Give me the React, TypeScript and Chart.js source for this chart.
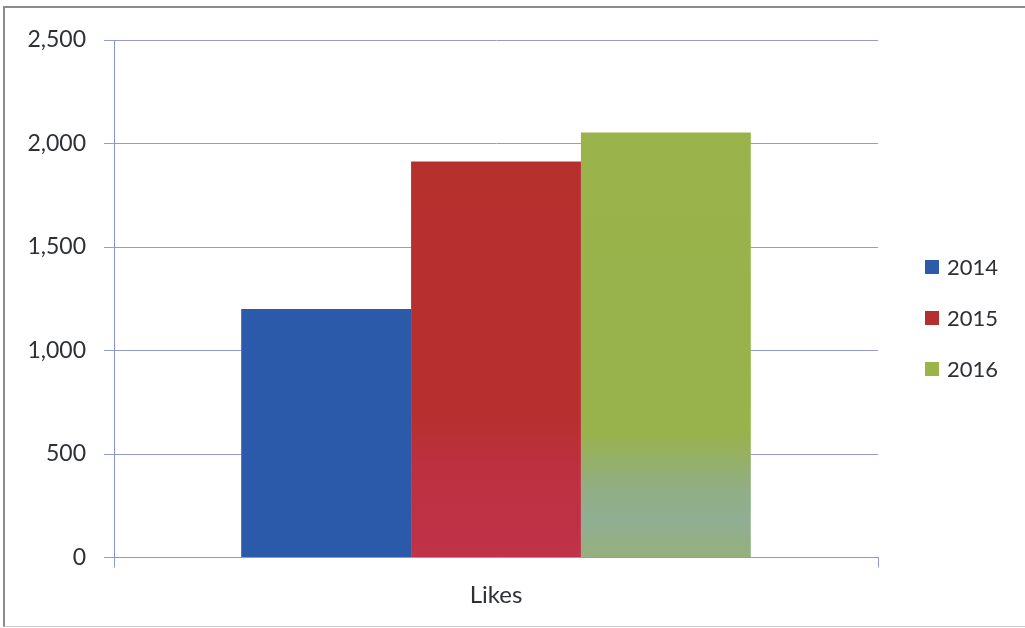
import React, { useEffect, useRef } from "react";
import { Chart, registerables } from "chart.js";

Chart.register(...registerables);

// Chart data
const categories = ["Likes"];
const seriesNames = ["2014", "2015", "2016"];
const likes2014 = [1200];
const likes2015 = [1913];
const likes2016 = [2053];
const yTicks = [0, 500, 1000, 1500, 2000, 2500];

const FONT = "Lato, 'Open Sans', sans-serif";
const TEXT = "#2e3038";

// Vertical fills for the bars (Excel-style shaded columns)
type Stops = [number, string][];
const fills: Stops[] = [
  [[0, "#2c5ba9"], [1, "#2b5aab"]],
  [[0, "#b52f2d"], [0.74, "#b7302f"], [0.82, "#bd3040"], [1, "#c03248"]],
  [[0, "#9ab44a"], [0.76, "#98b24c"], [0.87, "#91ae86"], [0.93, "#90ae92"], [1, "#96b07c"]],
];

function makeFill(stops: Stops) {
  return (ctx: any) => {
    const { chart } = ctx;
    const area = chart.chartArea;
    if (!area) return stops[0][1];
    const g = chart.ctx.createLinearGradient(0, area.top, 0, area.bottom);
    stops.forEach(([o, c]) => g.addColorStop(o, c));
    return g;
  };
}

const legendSwatch = [fills[0][0][1], fills[1][0][1], fills[2][0][1]];

// Legend drawn to the right of the plot area
const sideLegend = {
  id: "sideLegend",
  afterDraw(chart: any) {
    const { ctx, chartArea } = chart;
    const x = chartArea.right + 47;
    const gap = 51;
    const cy = chart.height / 2 + 4;
    ctx.save();
    ctx.font = `22px ${FONT}`;
    ctx.textBaseline = "middle";
    ctx.textAlign = "left";
    chart.data.datasets.forEach((ds: any, i: number) => {
      const y = cy + (i - 1) * gap;
      ctx.fillStyle = legendSwatch[i];
      ctx.fillRect(x, y - 7, 14, 14);
      ctx.fillStyle = TEXT;
      ctx.fillText(ds.label, x + 22, y + 1);
    });
    ctx.restore();
  },
};

export default function App() {
  const ref = useRef<HTMLCanvasElement | null>(null);

  useEffect(() => {
    if (!ref.current) return;
    const series = [likes2014, likes2015, likes2016];
    const chart = new Chart(ref.current, {
      type: "bar",
      data: {
        labels: categories,
        datasets: series.map((d, i) => ({
          label: seriesNames[i],
          data: d,
          backgroundColor: makeFill(fills[i]),
          borderWidth: 0,
          categoryPercentage: 0.667,
          barPercentage: 1.0,
        })),
      },
      options: {
        responsive: false,
        animation: false,
        layout: { padding: { left: 0, top: 40, right: 147, bottom: 0 } },
        plugins: {
          legend: { display: false },
          tooltip: { enabled: false },
        },
        scales: {
          x: {
            offset: true,
            grid: {
              offset: true,
              drawOnChartArea: false,
              tickLength: 10,
              color: "#8f99cf",
            },
            border: { color: "#8f99cf", width: 1 },
            ticks: {
              padding: 13,
              color: TEXT,
              font: { family: FONT, size: 24 },
            },
            afterFit: (s: any) => {
              s.height = 70.5;
            },
          },
          y: {
            min: 0,
            max: 2500,
            afterBuildTicks: (s: any) => {
              s.ticks = yTicks.map((v) => ({ value: v }));
            },
            grid: {
              color: "#949dcc",
              tickLength: 10,
              lineWidth: 1,
            },
            border: { color: "#8593d4", width: 1 },
            ticks: {
              padding: 18,
              color: TEXT,
              font: { family: FONT, size: 23 },
              callback: (v: any) => Number(v).toLocaleString("en-US"),
            },
            afterFit: (s: any) => {
              s.width = 114;
            },
          },
        },
      },
      plugins: [sideLegend],
    });
    return () => chart.destroy();
  }, []);

  return (
    <div
      style={{
        position: "fixed",
        left: 0,
        top: 0,
        width: 1025,
        height: 628,
        background: "#ffffff",
        overflow: "hidden",
      }}
    >
      <canvas ref={ref} width={1025} height={628} style={{ position: "absolute", left: 0, top: 0 }} />
      <div
        style={{
          position: "absolute",
          left: 3,
          top: 6,
          width: 1040,
          height: 618,
          borderTop: "2px solid #8a8c94",
          borderLeft: "2px solid #8a8c94",
          borderBottom: "1px solid #c9cbd0",
          pointerEvents: "none",
        }}
      />
    </div>
  );
}
